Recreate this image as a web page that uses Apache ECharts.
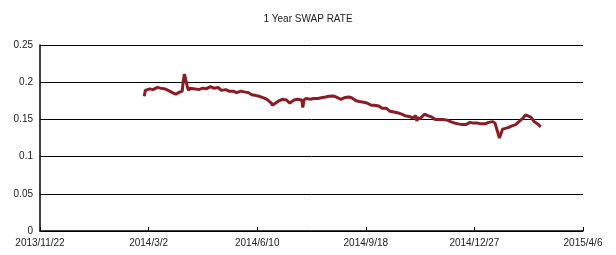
<!DOCTYPE html>
<html>
<head>
<meta charset="utf-8">
<script src="https://cdn.jsdelivr.net/npm/echarts@6/dist/echarts.min.js"></script>
<style>
  html, body { margin: 0; padding: 0; background: #fff; }
  #main { width: 616px; height: 255px; }
</style>
</head>
<body>
<div id="main"></div>
<script>
// 1 Year SWAP RATE
var dates = [
  '2014/2/26', '2014/2/27', '2014/3/3', '2014/3/6', '2014/3/10', '2014/3/13', '2014/3/17', '2014/3/20',
  '2014/3/24', '2014/3/27', '2014/3/31', '2014/4/1', '2014/4/2', '2014/4/3', '2014/4/4', '2014/4/7',
  '2014/4/8', '2014/4/9', '2014/4/10', '2014/4/14', '2014/4/17', '2014/4/21', '2014/4/24', '2014/4/28',
  '2014/5/1', '2014/5/5', '2014/5/8', '2014/5/12', '2014/5/15', '2014/5/19', '2014/5/22', '2014/5/26',
  '2014/5/29', '2014/6/2', '2014/6/5', '2014/6/9', '2014/6/12', '2014/6/16', '2014/6/19', '2014/6/23',
  '2014/6/24', '2014/6/26', '2014/6/30', '2014/7/3', '2014/7/7', '2014/7/10', '2014/7/14', '2014/7/17',
  '2014/7/21', '2014/7/22', '2014/7/23', '2014/7/25', '2014/7/29', '2014/8/1', '2014/8/5', '2014/8/8',
  '2014/8/12', '2014/8/15', '2014/8/19', '2014/8/22', '2014/8/26', '2014/8/29', '2014/9/2', '2014/9/5',
  '2014/9/9', '2014/9/12', '2014/9/16', '2014/9/19', '2014/9/23', '2014/9/26', '2014/9/30', '2014/10/3',
  '2014/10/7', '2014/10/10', '2014/10/14', '2014/10/17', '2014/10/21', '2014/10/24', '2014/10/28', '2014/10/31',
  '2014/11/3', '2014/11/4', '2014/11/5', '2014/11/7', '2014/11/11', '2014/11/14', '2014/11/18', '2014/11/21',
  '2014/11/25', '2014/11/28', '2014/12/2', '2014/12/5', '2014/12/9', '2014/12/12', '2014/12/16', '2014/12/19',
  '2014/12/23', '2014/12/26', '2014/12/30', '2015/1/2', '2015/1/6', '2015/1/9', '2015/1/13', '2015/1/15',
  '2015/1/16', '2015/1/19', '2015/1/20', '2015/1/22', '2015/1/23', '2015/1/27', '2015/1/30', '2015/2/3',
  '2015/2/6', '2015/2/10', '2015/2/12', '2015/2/13', '2015/2/17', '2015/2/20', '2015/2/24', '2015/2/26'
];
var rates = [
  0.181, 0.189, 0.191, 0.190, 0.193, 0.192, 0.191, 0.189,
  0.186, 0.184, 0.187, 0.185, 0.188, 0.203, 0.211, 0.192,
  0.189, 0.192, 0.193, 0.191, 0.190, 0.192, 0.191, 0.194,
  0.192, 0.193, 0.189, 0.190, 0.188, 0.188, 0.186, 0.188,
  0.187, 0.186, 0.183, 0.182, 0.181, 0.179, 0.177, 0.172,
  0.169, 0.171, 0.175, 0.177, 0.176, 0.172, 0.176, 0.177,
  0.176, 0.166, 0.176, 0.178, 0.177, 0.178, 0.178, 0.179,
  0.180, 0.181, 0.1815, 0.180, 0.177, 0.179, 0.180, 0.179,
  0.175, 0.174, 0.173, 0.172, 0.169, 0.169, 0.168, 0.165,
  0.165, 0.161, 0.160, 0.159, 0.157, 0.155, 0.154, 0.152,
  0.155, 0.148, 0.152, 0.151, 0.157, 0.155, 0.153, 0.150,
  0.150, 0.150, 0.149, 0.147, 0.145, 0.144, 0.143, 0.143,
  0.146, 0.145, 0.145, 0.144, 0.144, 0.146, 0.147, 0.145,
  0.140, 0.125, 0.127, 0.137, 0.138, 0.139, 0.141, 0.143,
  0.147, 0.152, 0.156, 0.155, 0.153, 0.147, 0.143, 0.140
];
var xStart = '2013/11/22';   // first tick label
var xDays = [0, 500];        // axis span in days from xStart
var xStepDays = 100;
var yTicks = [0, 0.05, 0.1, 0.15, 0.2, 0.25];

var DAY = 86400000;
function toUTC(s) {
  var p = s.split('/');
  return Date.UTC(+p[0], +p[1] - 1, +p[2]);
}
var t0 = toUTC(xStart);
function dayLabel(v) {
  var d = new Date(t0 + Math.round(v) * DAY);
  return d.getUTCFullYear() + '/' + (d.getUTCMonth() + 1) + '/' + d.getUTCDate();
}

var seriesData = dates.map(function (s, i) {
  return [(toUTC(s) - t0) / DAY, rates[i]];
});

var font = 'Liberation Sans';
var myChart = echarts.init(document.getElementById('main'));
myChart.setOption({
  animation: false,
  title: {
    text: '1 Year SWAP RATE',
    left: 'center',
    top: 9,
    textStyle: { fontFamily: font, fontSize: 10, fontWeight: 'normal', color: '#222' }
  },
  grid: { left: 40, right: 33, top: 45, bottom: 24 },
  xAxis: {
    type: 'value',
    min: xDays[0],
    max: xDays[1],
    interval: xStepDays,
    splitLine: { show: false },
    axisLine: { lineStyle: { color: '#000', width: 1.5 } },
    axisTick: { inside: true, length: 4, lineStyle: { color: '#000' } },
    axisLabel: {
      margin: 7,
      fontFamily: font, fontSize: 10, color: '#222',
      formatter: dayLabel
    }
  },
  yAxis: {
    type: 'value',
    min: yTicks[0],
    max: yTicks[yTicks.length - 1],
    interval: 0.05,
    axisLine: { show: true, lineStyle: { color: '#000', width: 1.5 } },
    axisTick: { show: false },
    splitLine: { lineStyle: { color: '#000', width: 1 } },
    axisLabel: {
      margin: 7,
      fontFamily: font, fontSize: 10, color: '#222',
      formatter: function (v) { return String(+v.toFixed(2)); }
    }
  },
  series: [{
    type: 'line',
    data: seriesData,
    showSymbol: false,
    lineStyle: { color: '#8c1c24', width: 3 },
    itemStyle: { color: '#8c1c24' }
  }]
});
</script>
</body>
</html>
